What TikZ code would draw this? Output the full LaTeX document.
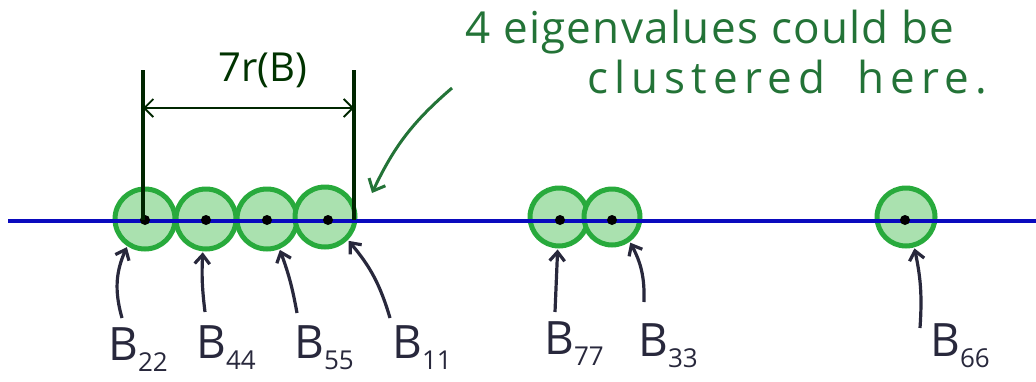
\documentclass[tikz,border=0pt]{standalone}
\usepackage{fontspec}
\setmainfont{Open Sans}
\usetikzlibrary{arrows.meta}
\definecolor{ring}{RGB}{40,170,60}
\definecolor{ringfill}{RGB}{170,225,175}
\definecolor{note}{RGB}{35,115,55}
\definecolor{ink}{RGB}{40,40,60}
\definecolor{axis}{RGB}{10,10,190}
\newcommand{\bsub}[1]{B\raisebox{-0.26em}{\fontsize{26}{26}\selectfont #1}}
\tikzset{
  disc/.style={circle,draw=ring,line width=5pt,fill=ringfill,minimum size=#1,inner sep=0pt},
  dot/.style={circle,fill=black,minimum size=10pt,inner sep=0pt},
  lab/.style={text=ink,font=\fontsize{46}{46}\selectfont,inner sep=0pt,anchor=base west},
  arr/.style={-{Straight Barb[length=9pt,width=15pt]},draw=ink,line width=3.2pt,shorten >=1pt},
  dim/.style={draw=black!85!green,line width=3.4pt},
  notetext/.style={text=note,font=\fontsize{44}{50}\selectfont,align=left}
}
\begin{document}
\begin{tikzpicture}[x=1pt,y=-1pt]
\useasboundingbox (0,0) rectangle (1036,381);
% discs
\node[disc=60pt] (c22) at (145,219) {};
\node[disc=60pt] (c44) at (206,219) {};
\node[disc=60pt] (c55) at (267,219) {};
\node[disc=60pt] (c11) at (325,217) {};
\node[disc=58pt] (c77) at (559,217) {};
\node[disc=56pt] (c33) at (612,217) {};
\node[disc=58pt] (c66) at (906,217) {};
% axis
\coordinate (axL) at (8,221);
\coordinate (axR) at (1036,221);
\draw[axis,line width=3.5pt] (axL) -- (axR);
% dots
\foreach \n/\x in {d22/145,d44/206,d55/267,d11/328,d77/560,d33/612,d66/905}
  \node[dot] (\n) at (\x,220) {};
% dimension
\coordinate (vL0) at (143,70);
\coordinate (vR0) at (354,70);
\coordinate (vL1) at (143,220);
\coordinate (vR1) at (354,220);
\draw[dim] (vL0) -- (vL1);
\draw[dim] (vR0) -- (vR1);
\coordinate (hL) at (143,108);
\coordinate (hR) at (354,108);
\draw[draw=black!85!green,line width=1.8pt,{Straight Barb[length=9pt,width=18pt]}-{Straight Barb[length=9pt,width=18pt]}] (hL) -- (hR);
\node[text=black!80!green,font=\fontsize{40}{40}\selectfont] (dimlab) at (263,70) {7r(B)};
% annotation
\node[notetext,anchor=north west,inner sep=0pt] (note) at (465,10) {\addfontfeature{LetterSpace=3}4 eigenvalues could be\\\hspace*{122pt}\addfontfeature{LetterSpace=14}clustered\hspace{14pt} here.};
\coordinate (nstart) at (452,88);
\coordinate (nend) at (372,193);
\draw[-{Straight Barb[length=10pt,width=18pt]},draw=note,line width=3pt] (nstart) to[bend right=12] (nend);
% labels
\node[lab] (l22) at (108,360) {\bsub{22}};
\node[lab] (l44) at (196,358) {\bsub{44}};
\node[lab] (l55) at (294,358) {\bsub{55}};
\node[lab] (l11) at (392,358) {\bsub{11}};
\node[lab] (l77) at (544,354) {\bsub{77}};
\node[lab] (l33) at (638,356) {\bsub{33}};
\node[lab] (l66) at (930,356) {\bsub{66}};
% arrows
\coordinate (a22) at (122,318);
\coordinate (a44) at (205,312);
\coordinate (a55) at (297,313);
\coordinate (a11) at (390,318);
\coordinate (a77) at (555,312);
\coordinate (a33) at (644,302);
\coordinate (a66) at (920,328);
\draw[arr] (a22) to[bend left=20] (c22);
\draw[arr] (a44) to[bend left=5] (c44);
\draw[arr] (a55) to[bend right=5] (c55);
\draw[arr] (a11) to[bend right=12] (c11);
\draw[arr] (a77) to (c77);
\draw[arr] (a33) to[bend right=15] (c33);
\draw[arr] (a66) to[bend right=8] (c66);
\end{tikzpicture}
\end{document}
